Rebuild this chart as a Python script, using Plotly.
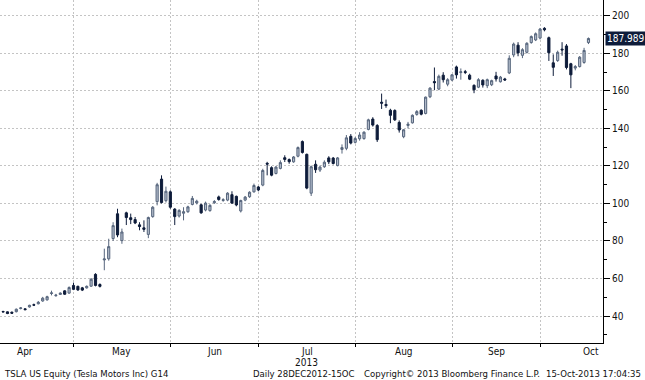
import pandas as pd
import plotly.graph_objects as go

# ---- data -------------------------------------------------------------
holidays = ["2013-05-27", "2013-07-04", "2013-09-02"]
first_day = "2013-04-08"
last_day = "2013-10-15"

open_ = [42.4, 42.2, 42.0, 42.3, 44.0, 43.8, 44.8, 46.0, 46.5, 48.0,
         48.6, 52.0, 50.8, 51.5, 53.4, 52.2, 56.3, 55.8, 55.0, 55.0,
         55.9, 62.2, 56.8, 69.9, 70.5, 81.3, 94.5, 80.2, 95.0, 92.4,
         91.4, 88.6, 87.0, 83.5, 93.0, 101.0, 113.0, 101.5, 106.2, 97.0,
         93.3, 94.8, 95.6, 99.5, 100.3, 99.3, 96.5, 96.2, 100.4, 103.5,
         101.6, 101.8, 104.7, 103.8, 96.0, 101.8, 103.6, 106.2, 108.8, 109.8,
         121.4, 119.1, 116.0, 118.7, 124.4, 123.4, 122.2, 125.2, 133.0, 126.2,
         105.5, 120.9, 117.8, 119.6, 124.3, 124.2, 120.2, 128.8, 129.4, 135.8,
         132.6, 134.5, 134.6, 139.5, 145.0, 141.6, 154.0, 152.8, 149.7, 149.6,
         143.2, 135.6, 141.6, 143.0, 147.5, 149.7, 148.0, 156.9, 165.0, 161.0,
         168.4, 163.6, 165.8, 172.8, 169.8, 170.3, 168.4, 163.0, 162.0, 165.7,
         162.8, 163.3, 168.0, 164.9, 166.4, 169.6, 179.2, 184.4, 179.0, 180.6,
         185.8, 187.2, 188.2, 193.4, 188.4, 175.0, 176.2, 182.3, 184.0, 174.5,
         172.2, 173.0, 175.2, 185.8]
high = [42.8, 42.4, 42.4, 44.0, 44.8, 44.2, 46.0, 46.6, 48.0, 50.2,
        50.8, 53.5, 51.8, 52.6, 53.7, 55.8, 57.8, 56.2, 55.5, 56.3,
        60.2, 62.8, 57.4, 75.9, 81.2, 90.0, 97.2, 86.6, 95.6, 94.6,
        92.8, 90.0, 91.0, 93.0, 98.6, 111.0, 115.0, 109.0, 107.0, 97.5,
        97.0, 98.0, 98.8, 104.0, 102.0, 99.8, 101.0, 99.6, 101.8, 104.2,
        102.8, 106.0, 106.5, 104.2, 102.0, 104.0, 106.5, 110.6, 109.3, 118.5,
        122.2, 119.8, 120.0, 123.0, 125.7, 124.0, 125.3, 130.4, 133.6, 126.6,
        120.2, 123.0, 120.2, 123.0, 125.2, 124.8, 124.8, 131.5, 136.5, 137.0,
        135.5, 138.0, 138.5, 145.2, 146.0, 142.3, 158.6, 155.4, 150.5, 150.2,
        144.3, 139.6, 143.5, 147.5, 149.8, 150.2, 157.0, 162.0, 172.5, 168.7,
        170.0, 166.8, 169.0, 173.5, 172.0, 171.2, 169.2, 163.5, 166.8, 166.2,
        166.6, 166.0, 170.2, 168.0, 167.0, 179.0, 185.8, 186.0, 182.8, 186.0,
        189.6, 191.2, 193.6, 194.0, 189.0, 179.5, 181.5, 186.0, 185.0, 175.0,
        173.8, 178.6, 183.0, 188.5]
low = [41.9, 41.0, 41.2, 41.9, 43.5, 43.0, 44.5, 45.3, 46.2, 47.6,
       48.2, 51.0, 50.3, 51.2, 51.3, 51.9, 53.8, 53.4, 53.3, 54.6,
       55.5, 55.8, 55.2, 64.4, 69.5, 80.0, 82.0, 78.5, 88.5, 89.0,
       89.0, 85.7, 84.8, 81.5, 92.4, 99.0, 100.0, 100.5, 97.2, 88.5,
       92.5, 91.0, 95.0, 99.0, 99.5, 94.5, 95.8, 95.6, 99.8, 101.5,
       100.9, 101.2, 99.8, 98.5, 95.2, 101.2, 103.0, 105.8, 106.5, 109.2,
       115.0, 114.5, 115.5, 118.2, 122.1, 121.2, 121.7, 124.6, 126.6, 107.6,
       104.0, 116.3, 116.8, 119.0, 121.0, 120.8, 119.8, 126.6, 128.4, 131.5,
       132.0, 133.5, 134.0, 139.0, 141.0, 132.8, 150.4, 151.0, 142.8, 144.0,
       137.8, 134.8, 140.0, 142.6, 146.8, 147.0, 147.5, 156.2, 160.4, 160.4,
       164.5, 162.5, 165.2, 166.6, 166.0, 169.0, 165.8, 158.8, 161.5, 161.8,
       161.5, 162.6, 165.0, 164.5, 165.3, 169.0, 178.0, 178.5, 177.5, 180.0,
       185.2, 186.6, 187.5, 191.8, 176.0, 168.0, 175.5, 178.8, 171.5, 161.5,
       171.0, 172.5, 174.5, 185.0]
close = [42.2, 41.3, 41.5, 43.6, 44.3, 43.4, 45.7, 45.8, 47.3, 49.5,
         50.3, 52.3, 51.1, 52.2, 51.6, 55.2, 54.2, 53.9, 53.8, 55.8,
         59.6, 56.3, 55.8, 70.4, 77.0, 88.2, 83.2, 84.8, 92.5, 91.4,
         89.6, 87.7, 86.2, 92.5, 98.0, 110.0, 100.5, 106.5, 98.0, 93.0,
         96.3, 95.6, 98.2, 102.7, 101.2, 95.0, 100.2, 99.0, 101.0, 102.1,
         102.0, 105.5, 100.2, 99.2, 101.6, 103.4, 106.0, 109.6, 107.2, 117.6,
         121.0, 115.1, 119.4, 121.8, 123.5, 122.3, 124.8, 129.8, 127.2, 108.2,
         119.6, 118.0, 119.4, 122.0, 122.2, 121.3, 124.3, 129.8, 135.0, 132.2,
         134.6, 136.5, 138.0, 144.6, 141.8, 134.0, 153.5, 152.2, 147.0, 144.6,
         139.2, 139.3, 142.3, 147.0, 149.0, 147.6, 156.7, 161.5, 164.4, 167.8,
         166.0, 166.0, 168.6, 168.6, 170.2, 169.9, 166.3, 160.6, 166.0, 163.2,
         166.0, 165.5, 166.4, 167.4, 165.9, 177.4, 185.0, 180.3, 182.0, 185.4,
         189.0, 190.5, 193.0, 192.6, 180.4, 172.6, 180.6, 181.9, 172.5, 168.6,
         173.0, 178.0, 181.6, 187.989]

month_names = ["Apr", "May", "Jun", "Jul", "Aug", "Sep", "Oct"]
y_ticks = [40, 60, 80, 100, 120, 140, 160, 180, 200]
last_label = "187.989"
footer_texts = ["TSLA US Equity (Tesla Motors Inc) G14",
                "Daily 28DEC2012-15OC",
                "Copyright\u00a9 2013 Bloomberg Finance L.P.",
                "15-Oct-2013 17:04:35"]

# ---- trading-day positions ----------------------------------------------
all_days = [d for d in pd.bdate_range("2013-04-01", "2013-10-31")
            if d.strftime("%Y-%m-%d") not in holidays]
origin = all_days.index(pd.Timestamp(first_day))
pos = {d: i - origin for i, d in enumerate(all_days)}
dates = [d for d in all_days if pd.Timestamp(first_day) <= d <= pd.Timestamp(last_day)]
xs = [pos[d] for d in dates]

# month boundaries: ticks at last trading day of each month
month_end = {}
month_start = {}
for d in all_days:
    month_end[d.month] = pos[d]
    month_start.setdefault(d.month, pos[d])
tick_pos = [month_end[m] for m in range(4, 10)]
label_pos = []
for m in range(4, 11):
    prev = month_end.get(m - 1, month_start[m] - 1)
    label_pos.append((prev + month_end[m]) / 2)

FONT = "DejaVu Sans Condensed, Liberation Sans, Arial, sans-serif"
UP_FILL = "#b3bccb"
UP_LINE = "#56657c"
DN = "#0e1c3a"

fig = go.Figure()
fig.add_trace(go.Candlestick(
    x=xs, open=open_, high=high, low=low, close=close,
    increasing=dict(fillcolor=UP_FILL, line=dict(color=UP_LINE, width=1)),
    decreasing=dict(fillcolor=DN, line=dict(color=DN, width=1)),
    whiskerwidth=0, hoverinfo="skip", showlegend=False,
))

x_lo, x_hi = -0.7, 136.3
fig.update_layout(
    width=645, height=380, autosize=False,
    margin=dict(l=0, r=42, t=0, b=37),
    paper_bgcolor="white", plot_bgcolor="white",
    font=dict(family=FONT, size=10, color="#111111"),
    xaxis=dict(
        range=[x_lo, x_hi], rangeslider=dict(visible=False),
        tickvals=tick_pos, showticklabels=False,
        ticks="outside", ticklen=3, tickcolor="black",
        showline=True, linecolor="black", linewidth=1,
        showgrid=True, gridcolor="#c4c4c4", griddash="2px,2px", gridwidth=1,
        zeroline=False, fixedrange=True,
    ),
    yaxis=dict(
        side="right", range=[25.6, 208.5],
        tickvals=y_ticks, ticks="outside", ticklen=6, tickcolor="black",
        tickfont=dict(size=10, family=FONT, color="#111111"),
        showline=True, linecolor="black", linewidth=1,
        showgrid=True, gridcolor="#c4c4c4", griddash="2px,2px", gridwidth=1,
        zeroline=False,
        minor=dict(dtick=10, tick0=0, ticks="outside", ticklen=3, tickcolor="black", showgrid=False),
    ),
)

annotations = []
for name, lp in zip(month_names, label_pos):
    annotations.append(dict(x=lp, xref="x", y=0, yref="paper", yanchor="middle",
                            yshift=-8, text=name, showarrow=False,
                            font=dict(size=10, family=FONT, color="#111111")))
    if name == "Jul":
        annotations.append(dict(x=lp, xref="x", y=0, yref="paper", yanchor="middle",
                                yshift=-19, text="2013", showarrow=False,
                                font=dict(size=10, family=FONT, color="#111111")))

plot_w = 603.0
footer_x = [2, 250.7, 361.7, 643]
footer_anchor = ["left", "left", "left", "right"]
for txt, fx, anc in zip(footer_texts, footer_x, footer_anchor):
    annotations.append(dict(x=fx / plot_w, xref="paper", xanchor=anc,
                            y=0, yref="paper", yanchor="middle", yshift=-30.5,
                            text=txt, showarrow=False,
                            font=dict(size=9.5, family=FONT, color="#111111")))

annotations.append(dict(x=1, xref="paper", xanchor="left", xshift=2,
                        y=close[-1], yref="y", yanchor="middle",
                        text=last_label, showarrow=False, bgcolor=DN,
                        borderpad=1, font=dict(size=10, family=FONT, color="white")))
fig.update_layout(annotations=annotations)

fig.write_html("out.html", config={"displayModeBar": False},
               post_script="document.body.style.margin='0';document.body.style.padding='0';")
